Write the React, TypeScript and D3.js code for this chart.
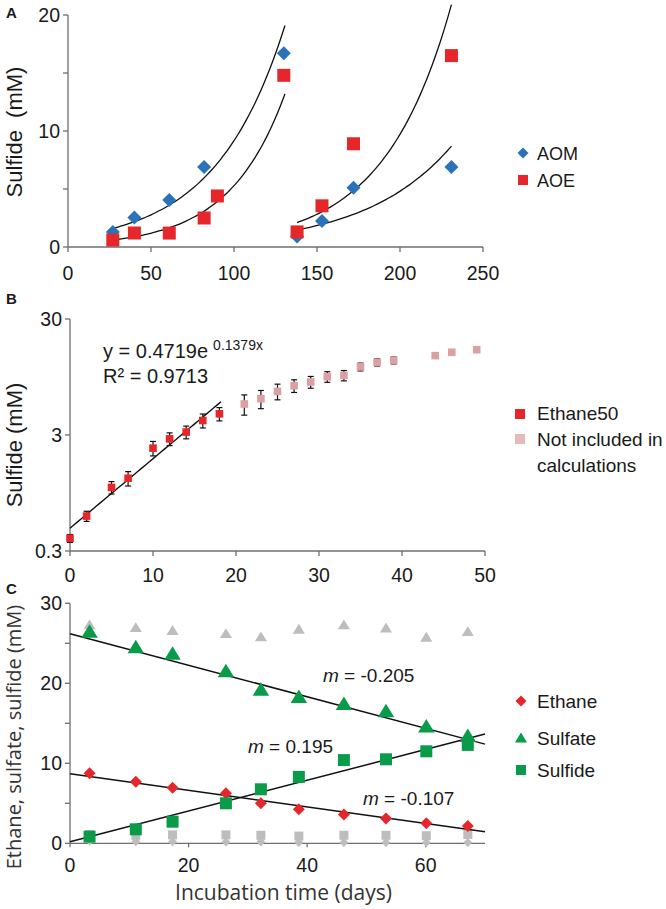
import React from 'react';
import * as d3 from 'd3';

// ---------- Panel A ----------
const aomDays = [27, 40, 61, 82, 130, 138, 153, 172, 231];
const aomSulfide = [1.3, 2.55, 4.05, 6.9, 16.7, 0.9, 2.25, 5.1, 6.9];
const aoeDays = [27, 40, 61, 82, 90, 130, 138, 153, 172, 231];
const aoeSulfide = [0.6, 1.2, 1.2, 2.5, 4.4, 14.8, 1.3, 3.55, 8.9, 16.5];
// exponential trend curves: start/end day and start/end value
const trendFrom = [27, 27, 138, 138];
const trendTo = [130.7, 130.7, 231, 231];
const trendStart = [1.6, 0.6, 2.1, 1.47];
const trendEnd = [19.1, 13.2, 20.9, 8.7];
const aXTicks = [0, 50, 100, 150, 200, 250];
const aYTicks = [0, 5, 10, 15, 20];
const aYLabels = [0, 10, 20];

// ---------- Panel B ----------
const bDays = [0, 2, 5, 7, 10, 12, 14, 16, 18];
const bSulfide = [0.386, 0.6, 1.06, 1.27, 2.31, 2.78, 3.18, 4.0, 4.57];
const bErr = [0.03, 0.06, 0.13, 0.18, 0.33, 0.35, 0.4, 0.55, 0.6];
const pinkDays = [21, 23, 25, 27, 29, 31, 33, 35, 37, 39, 44, 46, 49];
const pinkSulfide = [5.55, 6.16, 7.13, 7.98, 8.59, 9.54, 9.79, 11.6, 12.7, 13.2, 14.5, 15.5, 16.3];
const pinkErr = [1.1, 1.1, 1.1, 1.0, 1.0, 1.0, 1.0, 0.9, 0.9, 0.9, 0, 0, 0];
const fitA = 0.4719;
const fitB = 0.1379;
const fitEnd = 18.2;
const bXTicks = [0, 10, 20, 30, 40, 50];
const bYTicks = [0.3, 3, 30];

// ---------- Panel C ----------
const cDays = [3.3, 11.1, 17.3, 26.3, 32.2, 38.6, 46.2, 53.3, 60.1, 67.1];
const ethane = [8.75, 7.7, 6.95, 6.25, 5.0, 4.25, 3.6, 3.1, 2.5, 2.15];
const sulfate = [26.45, 24.5, 23.7, 21.5, 19.2, 18.3, 17.4, 16.5, 14.6, 13.4];
const sulfide = [0.83, 1.75, 2.7, 5.0, 6.75, 8.3, 10.4, 10.5, 11.5, 12.3];
const ctrlSulfate = [27.3, 26.95, 26.6, 26.2, 25.8, 26.75, 27.3, 26.9, 25.75, 26.45];
const ctrlSulfide = [1.1, 1.0, 1.05, 1.05, 1.0, 0.9, 1.0, 1.0, 0.95, 1.1];
const ctrlEthane = [0.3, 0.2, 0.2, 0.15, 0.15, 0.1, 0.1, 0.1, 0.1, 0.1];
// regression lines: value at day 0 and day 70 (ethane, sulfate, sulfide)
const lineStart = [8.7, 26.2, 0.2];
const lineEnd = [1.45, 12.4, 13.65];
const slopeLabels = ['-0.107', '-0.205', '0.195'];
const cXTicks = [0, 20, 40, 60];
const cYTicks = [0, 5, 10, 15, 20, 25, 30];
const cYLabels = [0, 10, 20, 30];

const BLUE = '#2a73bb';
const RED = '#e5262b';
const GREEN = '#0a9b4a';
const GRAY = '#bdbdbd';
const PINK = '#dba0a3';
const AXIS = '#6f6f6f';
const TXT = '#1a1a1a';
const FONT = '"Liberation Sans", Arial, sans-serif';
const FONT2 = '"Open Sans", sans-serif';

const diamond = (cx: number, cy: number, r: number) =>
  `M${cx},${cy - r}L${cx + r},${cy}L${cx},${cy + r}L${cx - r},${cy}Z`;
const square = (cx: number, cy: number, r: number) =>
  `M${cx - r},${cy - r}h${2 * r}v${2 * r}h${-2 * r}Z`;
const triangle = (cx: number, cy: number, r: number) =>
  `M${cx},${cy - r}L${cx + r * 1.1},${cy + r * 0.8}L${cx - r * 1.1},${cy + r * 0.8}Z`;

export default function App() {
  // scales
  const xA = d3.scaleLinear().domain([0, 250]).range([68, 483]);
  const yA = d3.scaleLinear().domain([0, 20]).range([247, 15]);
  const xB = d3.scaleLinear().domain([0, 50]).range([70, 485]);
  const yB = d3.scaleLog().domain([0.3, 30]).range([551, 319]);
  const xC = d3.scaleLinear().domain([0, 70]).range([70, 485]);
  const yC = d3.scaleLinear().domain([0, 30]).range([843.3, 603.3]);

  const lineA = d3.line<[number, number]>().x((d) => xA(d[0])).y((d) => yA(d[1])).curve(d3.curveMonotoneX);
  const trends = trendFrom.map((x0, i) => {
    const x1 = trendTo[i];
    const pts: [number, number][] = d3.range(0, 41).map((k) => {
      const t = k / 40;
      const x = x0 + (x1 - x0) * t;
      return [x, trendStart[i] * Math.pow(trendEnd[i] / trendStart[i], t)];
    });
    return lineA(pts) as string;
  });

  const fitPts: [number, number][] = d3.range(0, 41).map((k) => {
    const x = (fitEnd * k) / 40;
    return [x, fitA * Math.exp(fitB * x)];
  });
  const fitPath = d3.line<[number, number]>().x((d) => xB(d[0])).y((d) => yB(d[1]))(fitPts) as string;

  const errBar = (x: number, v: number, e: number, key: string) => {
    if (e <= 0) return null;
    const px = xB(x);
    const y1 = yB(v + e);
    const y2 = yB(Math.max(v - e, 0.01));
    return (
      <g key={key} stroke="#111" strokeWidth={1.2}>
        <line x1={px} x2={px} y1={y1} y2={y2} />
        <line x1={px - 3} x2={px + 3} y1={y1} y2={y1} />
        <line x1={px - 3} x2={px + 3} y1={y2} y2={y2} />
      </g>
    );
  };

  return (
    <svg width={666} height={909} style={{ position: 'absolute', left: 0, top: 0, background: '#fff' }} fontFamily={FONT}>
      <rect width={666} height={909} fill="#fff" />

      {/* ================= Panel A ================= */}
      <text x={6} y={18} fontSize={15} fontWeight="bold" fill={TXT}>A</text>
      <g stroke={AXIS} strokeWidth={1.3}>
        <line x1={xA(0)} x2={xA(0)} y1={yA(20)} y2={yA(0)} />
        <line x1={xA(0)} x2={xA(250)} y1={yA(0)} y2={yA(0)} />
        {aYTicks.map((t) => (
          <line key={'ayt' + t} x1={xA(0) - 5} x2={xA(0)} y1={yA(t)} y2={yA(t)} />
        ))}
        {aXTicks.map((t) => (
          <line key={'axt' + t} x1={xA(t)} x2={xA(t)} y1={yA(0)} y2={yA(0) + 5} />
        ))}
      </g>
      {aYLabels.map((t) => (
        <text key={'ayl' + t} x={xA(0) - 8} y={yA(t) + 7} fontSize={19.5} textAnchor="end" fill={TXT}>{t}</text>
      ))}
      {aXTicks.map((t) => (
        <text key={'axl' + t} x={xA(t)} y={280} fontSize={19.5} textAnchor="middle" fill={TXT}>{t}</text>
      ))}
      <text transform={`translate(21.5,${(yA(0) + yA(20)) / 2 + 1}) rotate(-90)`} fontSize={22} textAnchor="middle" fill={TXT} style={{ whiteSpace: 'pre' }}>
        {'Sulfide  (mM)'}
      </text>
      {trends.map((p, i) => (
        <path key={'tr' + i} d={p} fill="none" stroke="#111" strokeWidth={1.3} />
      ))}
      {aomDays.map((d, i) => (
        <path key={'aom' + i} d={diamond(xA(d), yA(aomSulfide[i]), 7)} fill={BLUE} />
      ))}
      {aoeDays.map((d, i) => (
        <path key={'aoe' + i} d={square(xA(d), yA(aoeSulfide[i]), 6.5)} fill={RED} />
      ))}
      {/* legend A */}
      <path d={diamond(523, 153, 5.5)} fill={BLUE} />
      <text x={537} y={160} fontSize={18} fill={TXT}>AOM</text>
      <path d={square(523, 180, 5)} fill={RED} />
      <text x={537} y={187} fontSize={18} fill={TXT}>AOE</text>

      {/* ================= Panel B ================= */}
      <text x={6} y={304} fontSize={15} fontWeight="bold" fill={TXT}>B</text>
      <g stroke={AXIS} strokeWidth={1.3}>
        <line x1={xB(0)} x2={xB(0)} y1={yB(30)} y2={yB(0.3)} />
        <line x1={xB(0)} x2={xB(50)} y1={yB(0.3)} y2={yB(0.3)} />
        {bYTicks.map((t) => (
          <line key={'byt' + t} x1={xB(0) - 5} x2={xB(0)} y1={yB(t)} y2={yB(t)} />
        ))}
        {bXTicks.map((t) => (
          <line key={'bxt' + t} x1={xB(t)} x2={xB(t)} y1={yB(0.3)} y2={yB(0.3) + 5} />
        ))}
      </g>
      {bYTicks.map((t) => (
        <text key={'byl' + t} x={xB(0) - 8} y={yB(t) + 7} fontSize={19.5} textAnchor="end" fill={TXT}>{t}</text>
      ))}
      {bXTicks.map((t) => (
        <text key={'bxl' + t} x={xB(t)} y={582} fontSize={19.5} textAnchor="middle" fill={TXT}>{t}</text>
      ))}
      <text transform={`translate(22,445) rotate(-90)`} fontSize={22} textAnchor="middle" fill={TXT}>Sulfide (mM)</text>
      {pinkDays.map((d, i) => errBar(d, pinkSulfide[i], pinkErr[i], 'pe' + i))}
      {bDays.map((d, i) => errBar(d, bSulfide[i], bErr[i], 'be' + i))}
      <path d={fitPath} fill="none" stroke="#111" strokeWidth={1.4} />
      {pinkDays.map((d, i) => (
        <path key={'pk' + i} d={square(xB(d), yB(pinkSulfide[i]), 3.8)} fill={PINK} />
      ))}
      {bDays.map((d, i) => (
        <path key={'bs' + i} d={square(xB(d), yB(bSulfide[i]), 3.8)} fill={RED} />
      ))}
      <text x={103} y={358} fontSize={20} fill={TXT}>
        y = 0.4719e
        <tspan fontSize={14} dx={5} dy={-8}>0.1379x</tspan>
      </text>
      <text x={103} y={383} fontSize={20} fill={TXT}>R² = 0.9713</text>
      {/* legend B */}
      <path d={square(520, 414, 5)} fill={RED} />
      <text x={537} y={420} fontSize={19} fill={TXT}>Ethane50</text>
      <path d={square(520, 439, 5)} fill="#e6b9ba" />
      <text x={537} y={446} fontSize={19} fill={TXT}>Not included in</text>
      <text x={537} y={472} fontSize={19} fill={TXT}>calculations</text>

      {/* ================= Panel C ================= */}
      <text x={6} y={594} fontSize={15} fontWeight="bold" fill={TXT}>C</text>
      <g stroke={AXIS} strokeWidth={1.3}>
        <line x1={xC(0)} x2={xC(0)} y1={yC(30)} y2={yC(0)} />
        <line x1={xC(0)} x2={xC(70)} y1={yC(0)} y2={yC(0)} />
        {cYTicks.map((t) => (
          <line key={'cyt' + t} x1={xC(0) - 5} x2={xC(0)} y1={yC(t)} y2={yC(t)} />
        ))}
        {cXTicks.map((t) => (
          <line key={'cxt' + t} x1={xC(t)} x2={xC(t)} y1={yC(0)} y2={yC(0) + 4} />
        ))}
      </g>
      {cYLabels.map((t) => (
        <text key={'cyl' + t} x={xC(0) - 8} y={yC(t) + 7} fontSize={19.5} textAnchor="end" fill={TXT}>{t}</text>
      ))}
      {cXTicks.map((t) => (
        <text key={'cxl' + t} x={xC(t)} y={872} fontSize={19.5} textAnchor="middle" fill={TXT}>{t}</text>
      ))}
      <text x={(xC(0) + xC(70)) / 2 + 6} y={900} fontSize={21} textAnchor="middle" fill="#333" fontFamily={FONT2}>
        Incubation time (days)
      </text>
      <text transform={`translate(21,737) rotate(-90)`} fontSize={20} textAnchor="middle" fill="#333" fontFamily={FONT2}>
        Ethane, sulfate, sulfide (mM)
      </text>
      {/* controls */}
      {cDays.map((d, i) => (
        <path key={'gt' + i} d={triangle(xC(d), yC(ctrlSulfate[i]), 5.5)} fill={GRAY} />
      ))}
      {cDays.map((d, i) => (
        <path key={'gs' + i} d={square(xC(d), yC(ctrlSulfide[i]), 4.5)} fill={GRAY} />
      ))}
      {cDays.map((d, i) => (
        <path key={'gd' + i} d={diamond(xC(d), yC(ctrlEthane[i]), 4.5)} fill={GRAY} />
      ))}
      {lineStart.map((v, i) => (
        <line key={'rl' + i} x1={xC(0)} x2={xC(70)} y1={yC(v)} y2={yC(lineEnd[i])} stroke="#111" strokeWidth={1.5} />
      ))}
      {cDays.map((d, i) => (
        <path key={'et' + i} d={diamond(xC(d), yC(ethane[i]), 6)} fill={RED} />
      ))}
      {cDays.map((d, i) => (
        <path key={'sf' + i} d={triangle(xC(d), yC(sulfate[i]), 7.5)} fill={GREEN} />
      ))}
      {cDays.map((d, i) => (
        <path key={'sd' + i} d={square(xC(d), yC(sulfide[i]), 6)} fill={GREEN} />
      ))}
      <text x={323} y={682} fontSize={19} fill={TXT}>
        <tspan fontStyle="italic">m</tspan> = {slopeLabels[1]}
      </text>
      <text x={248} y={753} fontSize={19} fill={TXT}>
        <tspan fontStyle="italic">m</tspan> = {slopeLabels[2]}
      </text>
      <text x={363} y={805} fontSize={19} fill={TXT}>
        <tspan fontStyle="italic">m</tspan> = {slopeLabels[0]}
      </text>
      {/* legend C */}
      <path d={diamond(521, 701, 5.5)} fill={RED} />
      <text x={537} y={708} fontSize={19} fill={TXT}>Ethane</text>
      <path d={triangle(521, 738, 5.5)} fill={GREEN} />
      <text x={537} y={745} fontSize={19} fill={TXT}>Sulfate</text>
      <path d={square(521, 770, 5)} fill={GREEN} />
      <text x={537} y={777} fontSize={19} fill={TXT}>Sulfide</text>
    </svg>
  );
}
